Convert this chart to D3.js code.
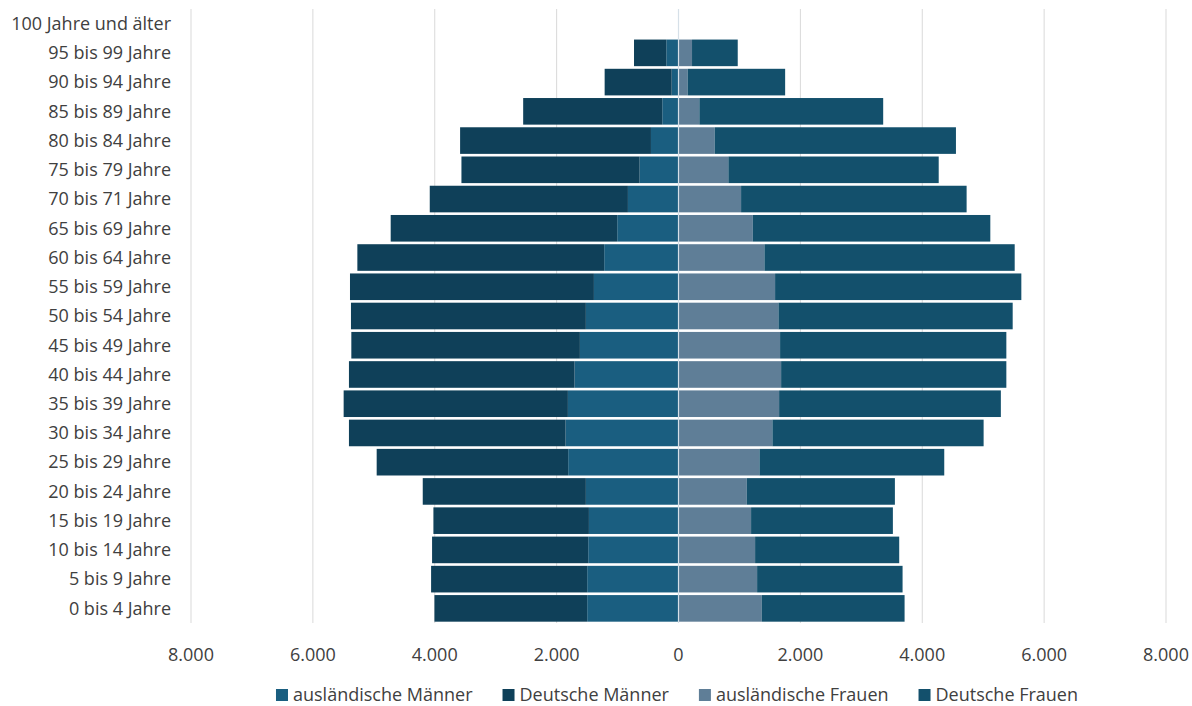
<!DOCTYPE html>
<html>
<head>
<meta charset="utf-8">
<script src="https://cdn.jsdelivr.net/npm/d3@7"></script>
<style>
  body { margin: 0; background: #fff; }
  text { font-family: "Open Sans", Lato, sans-serif; fill: #404040; }
</style>
</head>
<body>
<div id="chart"></div>
<script>
// age groups, bottom to top
const ageGroups = [
  "0 bis 4 Jahre", "5 bis 9 Jahre", "10 bis 14 Jahre", "15 bis 19 Jahre",
  "20 bis 24 Jahre", "25 bis 29 Jahre", "30 bis 34 Jahre", "35 bis 39 Jahre",
  "40 bis 44 Jahre", "45 bis 49 Jahre", "50 bis 54 Jahre", "55 bis 59 Jahre",
  "60 bis 64 Jahre", "65 bis 69 Jahre", "70 bis 71 Jahre", "75 bis 79 Jahre",
  "80 bis 84 Jahre", "85 bis 89 Jahre", "90 bis 94 Jahre", "95 bis 99 Jahre",
  "100 Jahre und älter"
];
const auslMaenner = [1498, 1498, 1481, 1470, 1520, 1810, 1853, 1815, 1706, 1618, 1520, 1388, 1219, 1005, 830, 638, 452, 266, 112, 200, 0];
const deutscheMaenner = [2507, 2562, 2563, 2552, 2677, 3143, 3555, 3680, 3702, 3751, 3855, 4003, 4051, 3718, 3252, 2924, 3132, 2283, 1100, 530, 0];
const auslFrauen = [1367, 1290, 1257, 1191, 1120, 1328, 1541, 1651, 1684, 1667, 1640, 1585, 1410, 1219, 1027, 818, 594, 342, 151, 222, 0];
const deutscheFrauen = [2343, 2387, 2365, 2327, 2431, 3033, 3466, 3639, 3696, 3713, 3844, 4041, 4107, 3898, 3701, 3452, 3959, 3017, 1599, 750, 0];
const tickValues = [-8000, -6000, -4000, -2000, 0, 2000, 4000, 6000, 8000];

const seriesNames = ["ausländische Männer", "Deutsche Männer", "ausländische Frauen", "Deutsche Frauen"];
const colors = ["#1a5e80", "#0f4059", "#5f7e97", "#13506c"];

const width = 1192, height = 706;
const svg = d3.select("#chart").append("svg")
  .attr("width", width).attr("height", height);

const x = d3.scaleLinear().domain([-8000, 8000]).range([191, 1166]);
const y = d3.scaleBand().domain(ageGroups.slice().reverse()).range([9, 623]).paddingInner(0.09).paddingOuter(0.045);

const de = d3.formatLocale({ decimal: ",", thousands: ".", grouping: [3], currency: ["", " €"] });
const fmt = de.format(",");

// gridlines
svg.append("g").selectAll("line").data(tickValues).join("line")
  .attr("x1", d => x(d)).attr("x2", d => x(d))
  .attr("y1", 9).attr("y2", 623)
  .attr("stroke", "#d9d9d9").attr("stroke-width", 1);

const rows = ageGroups.map((g, i) => ({
  group: g, am: auslMaenner[i], dm: deutscheMaenner[i], af: auslFrauen[i], df: deutscheFrauen[i]
}));

// men on the left, women on the right
const stackM = d3.stack().keys(["am", "dm"])(rows);
const stackF = d3.stack().keys(["af", "df"])(rows);

const bars = svg.append("g");
stackM.forEach((layer, k) => {
  bars.append("g").attr("fill", colors[k])
    .selectAll("rect").data(layer).join("rect")
    .attr("x", d => x(-d[1]))
    .attr("width", d => x(-d[0]) - x(-d[1]))
    .attr("y", d => y(d.data.group))
    .attr("height", y.bandwidth());
});
stackF.forEach((layer, k) => {
  bars.append("g").attr("fill", colors[k + 2])
    .selectAll("rect").data(layer).join("rect")
    .attr("x", d => x(d[0]))
    .attr("width", d => x(d[1]) - x(d[0]))
    .attr("y", d => y(d.data.group))
    .attr("height", y.bandwidth());
});

// zero line over the bars
svg.append("line")
  .attr("x1", x(0)).attr("x2", x(0)).attr("y1", 9).attr("y2", 623)
  .attr("stroke", "#d6e0e8").attr("stroke-width", 1.2);

// category labels
svg.append("g").selectAll("text").data(ageGroups).join("text")
  .attr("x", 171)
  .attr("y", d => y(d) + y.bandwidth() / 2)
  .attr("dy", "0.35em")
  .attr("text-anchor", "end")
  .attr("font-size", 18)
  .text(d => d);

// x tick labels
svg.append("g").selectAll("text").data(tickValues).join("text")
  .attr("x", d => x(d))
  .attr("y", 655)
  .attr("dy", "0.35em")
  .attr("text-anchor", "middle")
  .attr("font-size", 18)
  .text(d => fmt(Math.abs(d)));

// legend
const legend = svg.append("g");
const items = legend.selectAll("g").data(seriesNames).join("g");
items.append("rect").attr("width", 12).attr("height", 12).attr("y", -6)
  .attr("fill", (d, i) => colors[i]);
items.append("text").attr("x", 17).attr("dy", "0.35em").attr("font-size", 18).text(d => d);
let offset = 0;
const widths = [];
items.each(function () {
  widths.push(this.querySelector("text").getComputedTextLength() + 17);
});
const gap = 30;
const total = d3.sum(widths) + gap * (widths.length - 1);
let start = 677 - total / 2;
items.attr("transform", (d, i) => {
  const t = `translate(${start + offset},695)`;
  offset += widths[i] + gap;
  return t;
});
</script>
</body>
</html>
